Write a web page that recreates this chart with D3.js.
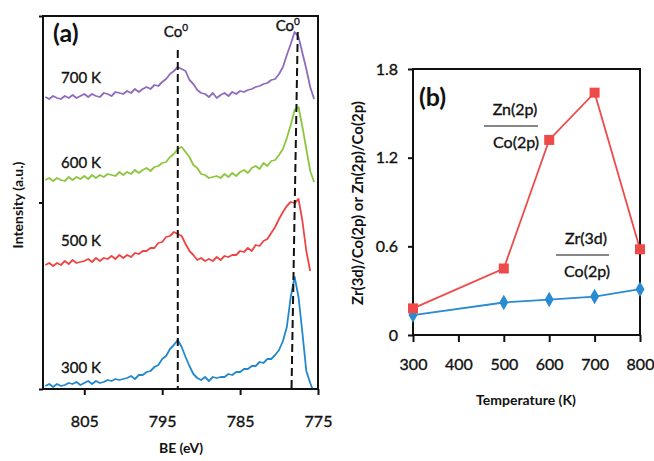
<!DOCTYPE html>
<html>
<head>
<meta charset="utf-8">
<script src="https://cdn.jsdelivr.net/npm/d3@7"></script>
<style>
  body { margin: 0; background: #fff; }
  text { font-family: Lato, "Open Sans", sans-serif; fill: #111; }
  text.semi, .tick text { stroke: #111; stroke-width: 0.35px; }
</style>
</head>
<body>
<div id="chart"></div>
<script>
// ---- panel (a) data: XPS Co 2p spectra, binding energy (eV) vs intensity (a.u.)
const be = [810, 809.5, 809, 808.5, 808, 807.5, 807, 806.5, 806, 805.5,
            805, 804.5, 804, 803.5, 803, 802.5, 802, 801.5, 801, 800.5,
            800, 799.5, 799, 798.5, 798, 797.5, 797, 796.5, 796, 795.5,
            795, 794.5, 794, 793.5, 793, 792.5, 792, 791.5, 791, 790.5,
            790, 789.5, 789, 788.5, 788, 787.5, 787, 786.5, 786, 785.5,
            785, 784.5, 784, 783.5, 783, 782.5, 782, 781.5, 781, 780.5,
            780, 779.5, 779, 778.5, 778, 777.5, 777, 776.5, 776, 775.5];
const int700 = [292, 290, 293, 291, 290, 293, 291, 294, 291, 293,
                295, 292, 295, 293, 292, 296, 295, 293, 297, 296,
                295, 298, 296, 300, 297, 300, 302, 300, 304, 303,
                307, 310, 315, 318, 322, 320, 318, 309, 305, 299,
                296, 295, 292, 296, 291, 294, 296, 293, 297, 295,
                298, 297, 299, 300, 302, 303, 305, 306, 309, 310,
                315, 322, 334, 345, 357, 352, 336, 320, 302, 290];
const int600 = [209, 211, 208, 211, 209, 208, 212, 209, 212, 210,
                213, 210, 214, 211, 214, 212, 215, 214, 213, 217,
                214, 217, 215, 219, 216, 219, 221, 218, 222, 223,
                226, 227, 232, 235, 240, 242, 237, 232, 224, 221,
                215, 214, 211, 212, 213, 211, 215, 212, 216, 213,
                217, 219, 216, 221, 223, 220, 226, 223, 228, 229,
                234, 240, 251, 264, 279, 282, 262, 240, 218, 207];
const int500 = [124, 126, 123, 126, 124, 128, 125, 129, 126, 127,
                128, 130, 127, 131, 128, 131, 130, 133, 130, 134,
                131, 134, 132, 136, 135, 138, 138, 141, 141, 146,
                147, 152, 153, 157, 155, 153, 145, 138, 134, 129,
                131, 128, 130, 128, 132, 129, 133, 132, 134, 134,
                138, 137, 141, 138, 144, 143, 148, 150, 156, 162,
                170, 177, 183, 187, 186, 190, 168, 138, 118];
const int300 = [3, 5, 2, 5, 3, 4, 6, 5, 7, 4,
                6, 8, 5, 8, 6, 7, 9, 8, 10, 9,
                10, 11, 13, 10, 14, 14, 17, 18, 22, 24,
                30, 33, 40, 44, 49, 42, 32, 23, 15, 11,
                9, 12, 8, 12, 11, 12, 12, 15, 14, 17,
                17, 20, 20, 23, 23, 27, 26, 30, 30, 34,
                39, 48, 62, 92, 112, 92, 56, 18, 6, -4];
const spectraNames = ["700 K", "600 K", "500 K", "300 K"];
const beTicks = [805, 795, 785, 775];
// Co0 reference lines: BE at top and bottom of each line, top intensity
const coLineBE = [[793, 793], [777.6, 778.4]];
const coLineTop = [339, 357];

// ---- panel (b) data
const temps = [300, 500, 600, 700, 800];
const znCo = [0.18, 0.45, 1.32, 1.64, 0.58];
const zrCo = [0.135, 0.22, 0.24, 0.26, 0.31];
const tempTicks = [300, 400, 500, 600, 700, 800];
const ratioTicks = [0, 0.6, 1.2, 1.8];

function init() {
    let width = 654, height = 461;
    let svg = d3.select("#chart").append("svg")
        .attr("width", width)
        .attr("height", height);

    // ================= panel (a) =================
    let ax = {left: 43, right: 318, top: 16, bottom: 389};
    let xA = d3.scaleLinear().domain([810.3, 775]).range([ax.left, ax.right]);
    let yA = d3.scaleLinear().domain([0, 373]).range([ax.bottom, ax.top]);

    svg.append("clipPath").attr("id", "clipA")
        .append("rect")
        .attr("x", ax.left).attr("y", ax.top)
        .attr("width", ax.right - ax.left).attr("height", ax.bottom - ax.top);

    let spectra = [
        {name: spectraNames[0], values: int700, color: "#8f6bbd", label: 83},
        {name: spectraNames[1], values: int600, color: "#8cc63e", label: 168},
        {name: spectraNames[2], values: int500, color: "#ef4444", label: 246},
        {name: spectraNames[3], values: int300, color: "#2188cf", label: 373}
    ];
    let line = d3.line()
        .x(d => xA(d[0]))
        .y(d => yA(d[1]));

    svg.append("g").attr("clip-path", "url(#clipA)")
        .selectAll("path")
        .data(spectra)
        .join("path")
        .attr("d", d => line(d.values.map((v, i) => [be[i], v])))
        .attr("fill", "none")
        .attr("stroke", d => d.color)
        .attr("stroke-width", 1.8)
        .attr("stroke-linejoin", "round");

    // dashed Co0 lines
    svg.selectAll(".coline")
        .data(coLineBE)
        .join("line")
        .attr("class", "coline")
        .attr("x1", d => xA(d[0]))
        .attr("x2", d => xA(d[1]))
        .attr("y1", (d, i) => yA(coLineTop[i]))
        .attr("y2", yA(0))
        .attr("stroke", "#111")
        .attr("stroke-width", 2)
        .attr("stroke-dasharray", "8,4");

    let coLabels = svg.selectAll(".colabel")
        .data([{x: xA(793) - 14, y: 37}, {x: xA(777.6) - 22, y: 31}])
        .join("text")
        .attr("class", "colabel semi")
        .attr("x", d => d.x)
        .attr("y", d => d.y)
        .style("font-size", "15px");
    coLabels.append("tspan").text("Co");
    coLabels.append("tspan").text("0").attr("dy", -6).style("font-size", "10px");

    svg.selectAll(".speclabel")
        .data(spectra)
        .join("text")
        .attr("class", "speclabel semi")
        .attr("x", 61)
        .attr("y", d => d.label)
        .style("font-size", "15px")
        .text(d => d.name);

    svg.append("rect")
        .attr("x", ax.left).attr("y", ax.top)
        .attr("width", ax.right - ax.left).attr("height", ax.bottom - ax.top)
        .attr("fill", "none").attr("stroke", "#111").attr("stroke-width", 2);

    let xAxisA = svg.append("g")
        .attr("transform", `translate(0,${ax.bottom})`)
        .call(d3.axisBottom(xA).tickValues(beTicks).tickSize(6).tickPadding(21).tickFormat(d3.format("d")));
    let yAxisA = svg.append("g")
        .attr("transform", `translate(${ax.left},0)`)
        .call(d3.axisLeft(yA).tickValues([0, 186.5, 373]).tickSize(4).tickFormat(""));
    [xAxisA, yAxisA].forEach(g => {
        g.select(".domain").remove();
        g.selectAll("line").attr("stroke", "#111").attr("stroke-width", 2);
        g.selectAll("text").style("font-size", "16px").style("font-family", "Lato, sans-serif").attr("fill", "#111");
    });

    svg.append("text")
        .attr("x", 53).attr("y", 42)
        .style("font-size", "25px").style("font-weight", "bold")
        .text("(a)");
    svg.append("text")
        .attr("x", 181).attr("y", 453)
        .attr("text-anchor", "middle")
        .style("font-size", "14px").style("font-weight", "bold")
        .text("BE (eV)");
    svg.append("text")
        .attr("transform", "translate(23,205) rotate(-90)")
        .attr("text-anchor", "middle")
        .style("font-size", "14px").style("font-weight", "bold")
        .text("Intensity (a.u.)");

    // ================= panel (b) =================
    let bx = {left: 413, right: 640, top: 69, bottom: 335};
    let xB = d3.scaleLinear().domain([300, 800]).range([bx.left, bx.right]);
    let yB = d3.scaleLinear().domain([0, 1.8]).range([bx.bottom, bx.top]);

    svg.append("rect")
        .attr("x", bx.left).attr("y", bx.top)
        .attr("width", bx.right - bx.left).attr("height", bx.bottom - bx.top)
        .attr("fill", "none").attr("stroke", "#111").attr("stroke-width", 2);

    let xAxisB = svg.append("g")
        .attr("transform", `translate(0,${bx.bottom})`)
        .call(d3.axisBottom(xB).tickValues(tempTicks).tickSize(7).tickPadding(17).tickFormat(d3.format("d")));
    let yAxisB = svg.append("g")
        .attr("transform", `translate(${bx.left},0)`)
        .call(d3.axisLeft(yB).tickValues(ratioTicks).tickSize(5).tickPadding(10).tickFormat(d => d === 0 ? "0" : d3.format(".1f")(d)));
    [xAxisB, yAxisB].forEach(g => {
        g.select(".domain").remove();
        g.selectAll("line").attr("stroke", "#111").attr("stroke-width", 2);
        g.selectAll("text").style("font-size", "16px").style("font-family", "Lato, sans-serif").attr("fill", "#111");
    });

    let lineB = d3.line()
        .x(d => xB(d[0]))
        .y(d => yB(d[1]));
    let series = [
        {values: zrCo, color: "#2a8ad2", symbol: d3.symbolDiamond, size: 70},
        {values: znCo, color: "#ef4a4a", symbol: d3.symbolSquare, size: 100}
    ];
    series.forEach(s => {
        let pts = temps.map((t, i) => [t, s.values[i]]);
        svg.append("path")
            .attr("d", lineB(pts))
            .attr("fill", "none")
            .attr("stroke", s.color)
            .attr("stroke-width", 1.8);
        svg.selectAll(null)
            .data(pts)
            .join("path")
            .attr("transform", d => `translate(${xB(d[0])},${yB(d[1])})`)
            .attr("d", d3.symbol().type(s.symbol).size(s.size))
            .attr("fill", s.color);
    });

    // fraction annotations
    let fracs = [
        {num: "Zn(2p)", den: "Co(2p)", cx: 515, y: 115, x1: 484, x2: 538},
        {num: "Zr(3d)", den: "Co(2p)", cx: 586, y: 244, x1: 556, x2: 609}
    ];
    fracs.forEach(f => {
        svg.append("text").attr("class", "semi").attr("x", f.cx).attr("y", f.y)
            .attr("text-anchor", "middle").style("font-size", "16px").text(f.num);
        svg.append("line").attr("x1", f.x1).attr("x2", f.x2)
            .attr("y1", f.y + 11).attr("y2", f.y + 11)
            .attr("stroke", "#111").attr("stroke-width", 1.2);
        svg.append("text").attr("class", "semi").attr("x", f.cx + 1).attr("y", f.y + 33)
            .attr("text-anchor", "middle").style("font-size", "16px").text(f.den);
    });

    svg.append("text")
        .attr("x", 419).attr("y", 106)
        .style("font-size", "25px").style("font-weight", "bold")
        .text("(b)");
    svg.append("text")
        .attr("x", 526).attr("y", 405)
        .attr("text-anchor", "middle")
        .style("font-size", "14px").style("font-weight", "bold")
        .text("Temperature (K)");
    svg.append("text")
        .attr("transform", "translate(363,203) rotate(-90)")
        .attr("text-anchor", "middle")
        .style("font-size", "15px").style("font-weight", "bold")
        .text("Zr(3d)/Co(2p) or Zn(2p)/Co(2p)");
}
window.onload = init;
</script>
</body>
</html>
